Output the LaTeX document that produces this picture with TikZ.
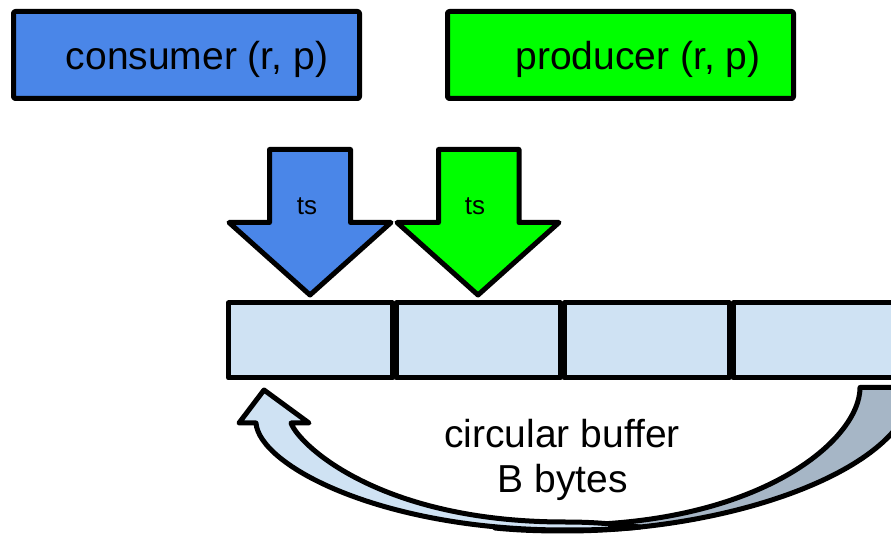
\documentclass[tikz,border=0pt]{standalone}
\usepackage{fontspec}
\setmainfont{Liberation Sans}
\definecolor{consblue}{HTML}{4A86E8}
\definecolor{prodgreen}{HTML}{00FF00}
\definecolor{bufblue}{HTML}{CFE2F3}
\definecolor{backgray}{HTML}{A6B6C6}
\begin{document}
\begin{tikzpicture}[x=1pt,y=1pt,
  outl/.style={draw=black, line width=5pt, line join=round},
  topbox/.style={outl, rounded corners=2pt, minimum width=346pt, minimum height=87pt, inner sep=0pt},
  cellbox/.style={outl, fill=bufblue, minimum height=75pt, inner sep=0pt},
  biglbl/.style={font=\fontsize{39}{45}\selectfont, anchor=base, inner sep=0pt},
  tslbl/.style={font=\fontsize{26}{30}\selectfont, anchor=base, inner sep=0pt},
]
\useasboundingbox (0,0) rectangle (891,535);
\clip (0,0) rectangle (891,535);

% top boxes
\node[topbox, fill=consblue] (cons) at (186.5,480) {};
\node[topbox, fill=prodgreen] (prod) at (620.5,480) {};
\node[biglbl] (constxt) at (197,465) {consumer (r, p)};
\node[biglbl] (prodtxt) at (638,465) {producer (r, p)};

% down arrows
\draw[outl, fill=consblue] (269.5,385.5) -- (350.5,385.5) -- (350.5,312.5) -- (391,312.5)
  -- (310,240) -- (229,312.5) -- (269.5,312.5) -- cycle;
\draw[outl, fill=prodgreen] (438.5,385.5) -- (519,385.5) -- (519,312.5) -- (559,312.5)
  -- (478,240) -- (397,312.5) -- (438.5,312.5) -- cycle;
\node[tslbl] (ts1) at (307,320) {ts};
\node[tslbl] (ts2) at (475,320) {ts};

% buffer cells
\node[cellbox, minimum width=164pt] (c1) at (310.5,194.5) {};
\node[cellbox, minimum width=164pt] (c2) at (478,194.5) {};
\node[cellbox, minimum width=165pt] (c3) at (646.5,194.5) {};
\node[cellbox, minimum width=172pt] (c4) at (819,194.5) {};

% curved arrow: back part
\draw[outl, fill=backgray] (860,147.5) -- (912,147.5)
  .. controls (912,70) and (740,4) .. (565,4)
  .. controls (535,4) and (515,5) .. (495,7)
  .. controls (515,9) and (535,10) .. (565,10)
  .. controls (760,10) and (860,95) .. (860,147.5) -- cycle;
% curved arrow: front part with head
\draw[outl, fill=bufblue] (264,145) -- (309,112) -- (291,112)
  .. controls (299,90) and (380,13) .. (565,13)
  .. controls (600,13) and (620,10) .. (640,8)
  .. controls (620,6) and (600,5) .. (565,5)
  .. controls (380,5) and (259,70) .. (256,112)
  -- (239,112) -- cycle;

\node[biglbl] (buf1) at (562,87) {circular buffer};
\node[biglbl] (buf2) at (563,42) {B bytes};
\end{tikzpicture}
\end{document}
